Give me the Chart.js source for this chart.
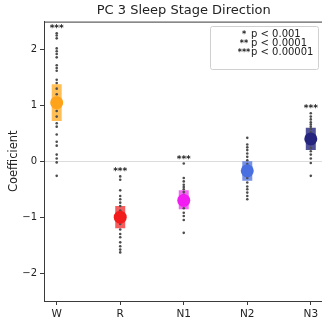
<!DOCTYPE html>
<html lang="en">
<head>
  <meta charset="UTF-8" />
  <title>PC 3 Sleep Stage Direction</title>
  <script src="https://cdn.jsdelivr.net/npm/chart.js"></script>
  <style>
    html, body { margin: 0; padding: 0; background: #fff; overflow: hidden; }
    #wrap { width: 330px; height: 326px; }
  </style>
</head>
<body>
  <div id="wrap"><canvas id="pcChart"></canvas></div>

  <script>
    // sleep stages on the x axis
    const stages = ['W', 'R', 'N1', 'N2', 'N3'];

    // per-subject coefficients (grey dots)
    const wVals  = [2.29, 2.25, 2.2, 2.02, 1.97, 1.92, 1.86, 1.72, 1.67, 1.62, 1.46, 1.4, 1.3, 1.2, 1.1, 1.0, 0.9, 0.8, 0.68, 0.62, 0.48, 0.35, 0.28, 0.12, 0.05, -0.02, -0.26];
    const rVals  = [-0.27, -0.33, -0.52, -0.62, -0.68, -0.74, -0.8, -0.88, -0.95, -1.05, -1.12, -1.22, -1.3, -1.36, -1.45, -1.52, -1.58, -1.63];
    const n1Vals = [-0.04, -0.3, -0.36, -0.42, -0.46, -0.5, -0.55, -0.6, -0.78, -0.84, -0.92, -0.98, -1.05, -1.28];
    const n2Vals = [0.42, 0.3, 0.25, 0.2, 0.14, 0.08, 0.02, -0.05, -0.3, -0.38, -0.45, -0.5, -0.56, -0.62, -0.68];
    const n3Vals = [0.86, 0.8, 0.75, 0.7, 0.66, 0.62, 0.58, 0.52, 0.32, 0.24, 0.18, 0.12, 0.05, -0.03, -0.26];

    // group mean and interval
    const means  = [1.05, -1.0, -0.7, -0.17, 0.4];
    const ciLow  = [0.72, -1.2, -0.86, -0.35, 0.2];
    const ciHigh = [1.38, -0.8, -0.52, 0.0, 0.6];

    const stars = ['***', '***', '***', '', '***'];
    const yTicks = [-2, -1, 0, 1, 2];
    const legendStars = ['*', '**', '***'];
    const legendText = ['p < 0.001', 'p < 0.0001', 'p < 0.00001'];

    const allVals = [wVals, rVals, n1Vals, n2Vals, n3Vals];
    const solid = ['#FFA31A', '#F21C1C', '#F21CF2', '#4A6FE0', '#25257F'];
    const faded = ['rgba(255,170,30,0.75)', 'rgba(240,40,40,0.75)', 'rgba(240,40,240,0.7)', 'rgba(74,111,224,0.75)', 'rgba(37,37,127,0.8)'];

    const FONT = 'DejaVu Sans';

    const datasets = [];
    datasets.push({
      label: 'means',
      data: means.map((m, i) => ({ x: i, y: m })),
      pointRadius: 6.5,
      pointBackgroundColor: solid,
      pointBorderWidth: 0,
      order: 0
    });
    datasets.push({
      label: 'subjects',
      data: allVals.flatMap((arr, i) => arr.map(v => ({ x: i, y: v }))),
      pointRadius: 1.3,
      pointBackgroundColor: '#4d4d4d',
      pointBorderWidth: 0,
      order: 1
    });
    stages.forEach((s, i) => {
      datasets.push({
        label: s + ' interval',
        data: [{ x: i, y: ciLow[i] }, { x: i, y: ciHigh[i] }],
        showLine: true,
        borderColor: faded[i],
        borderWidth: 10,
        borderCapStyle: 'butt',
        pointRadius: 0,
        order: 2
      });
    });

    // top/right spines, significance stars and the p-value box
    const extras = {
      id: 'extras',
      afterDatasetsDraw(chart) {
        const { ctx, chartArea: a, scales: { x, y } } = chart;
        ctx.save();
        ctx.strokeStyle = '#3a3a3a';
        ctx.lineWidth = 1;
        ctx.beginPath();
        ctx.moveTo(a.left, a.top + 0.5);
        ctx.lineTo(a.right, a.top + 0.5);
        ctx.lineTo(a.right - 0.5, a.bottom);
        ctx.stroke();

        ctx.fillStyle = '#222';
        ctx.font = 'bold 9px "' + FONT + '"';
        ctx.textAlign = 'center';
        ctx.textBaseline = 'alphabetic';
        stars.forEach((st, i) => {
          if (!st) return;
          const top = Math.max(...allVals[i]);
          ctx.fillText(st, x.getPixelForValue(i), y.getPixelForValue(top) - 2);
        });

        const bx = 210, by = 26, bw = 108, bh = 43;
        ctx.fillStyle = 'rgba(255,255,255,0.85)';
        ctx.strokeStyle = '#d0d0d0';
        ctx.beginPath();
        ctx.roundRect(bx + 0.5, by + 0.5, bw, bh, 2);
        ctx.fill();
        ctx.stroke();

        ctx.fillStyle = '#222';
        ctx.textBaseline = 'middle';
        legendStars.forEach((st, k) => {
          const ly = by + 8 + k * 9.2;
          ctx.font = 'bold 8px "' + FONT + '"';
          ctx.textAlign = 'center';
          ctx.fillText(st, bx + 34, ly + 1);
          ctx.font = '10px "' + FONT + '"';
          ctx.textAlign = 'left';
          ctx.fillText(legendText[k], bx + 41, ly);
        });
        ctx.restore();
      }
    };

    new Chart(document.getElementById('pcChart'), {
      type: 'scatter',
      data: { datasets },
      plugins: [extras],
      options: {
        responsive: true,
        maintainAspectRatio: false,
        animation: false,
        events: [],
        layout: { padding: { left: 0, right: 1, top: 0, bottom: 0 } },
        plugins: {
          legend: { display: false },
          tooltip: { enabled: false },
          title: {
            display: true,
            fullSize: false,
            text: 'PC 3 Sleep Stage Direction',
            color: '#222',
            font: { family: FONT, size: 13, weight: 'normal' },
            padding: { top: 3, bottom: 3 }
          }
        },
        scales: {
          x: {
            type: 'linear',
            min: -0.2,
            max: 4.2,
            afterBuildTicks: s => { s.ticks = stages.map((_, i) => ({ value: i })); },
            afterFit: s => { s.height = 25; s.paddingLeft = 0; s.paddingRight = 0; },
            ticks: {
              color: '#222',
              font: { family: FONT, size: 10.5 },
              padding: 3,
              maxRotation: 0,
              callback: v => stages[v]
            },
            grid: { drawOnChartArea: false, tickLength: 4, tickColor: '#3a3a3a' },
            border: { display: true, color: '#3a3a3a', width: 1 }
          },
          y: {
            min: -2.5,
            max: 2.5,
            afterBuildTicks: s => { s.ticks = yTicks.map(v => ({ value: v })); },
            afterFit: s => { s.width = 44; s.paddingTop = 0; s.paddingBottom = 0; },
            ticks: {
              color: '#222',
              font: { family: FONT, size: 10 },
              padding: 3,
              callback: v => (v < 0 ? '\u2212' + Math.abs(v) : String(v))
            },
            grid: {
              color: c => (c.tick && c.tick.value === 0 ? '#dcdcdc' : 'rgba(0,0,0,0)'),
              tickColor: '#3a3a3a',
              tickLength: 4
            },
            border: { display: true, color: '#3a3a3a', width: 1 },
            title: {
              display: true,
              text: 'Coefficient',
              color: '#222',
              font: { family: FONT, size: 11.5 },
              padding: { top: 7, bottom: 0 }
            }
          }
        }
      }
    });
  </script>
</body>
</html>
